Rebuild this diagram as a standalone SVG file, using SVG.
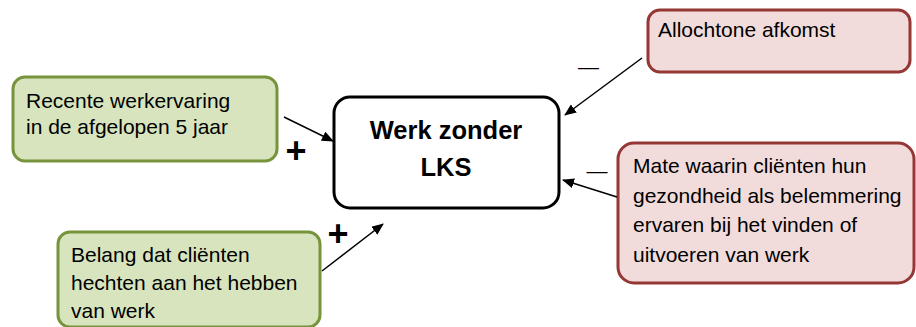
<svg xmlns="http://www.w3.org/2000/svg" width="916" height="327" viewBox="0 0 916 327">
<defs>
<marker id="ah" markerWidth="12" markerHeight="10" refX="11" refY="5" orient="auto" markerUnits="userSpaceOnUse">
<path d="M0,0 L12,5 L0,10 Z" fill="#000"/>
</marker>
<style>
.g{fill:#D7E4BD;stroke:#77933C;stroke-width:3}
.p{fill:#F2DCDB;stroke:#953735;stroke-width:3}
.c{fill:#fff;stroke:#000;stroke-width:3}
.t{font-family:"Liberation Sans",Arial,sans-serif;font-size:21px;fill:#000}
.b{font-family:"Liberation Sans",Arial,sans-serif;font-weight:bold;fill:#000}
.e{stroke:#000;stroke-width:1.5;fill:none;marker-end:url(#ah)}
</style>
</defs>
<rect width="916" height="327" fill="#fff"/>
<g id="center">
<rect class="c" x="334" y="97" width="225" height="111" rx="16"/>
<text class="b" x="446" y="139" font-size="25.5" text-anchor="middle">Werk zonder</text>
<text class="b" x="446" y="176" font-size="25.5" text-anchor="middle">LKS</text>
</g>
<g id="recente">
<rect class="g" x="13" y="77" width="264" height="84" rx="12"/>
<text class="t" x="26" y="108">Recente werkervaring</text>
<text class="t" x="26" y="134">in de afgelopen 5 jaar</text>
</g>
<g id="belang">
<rect class="g" x="58" y="232" width="262" height="95" rx="12"/>
<text class="t" x="71" y="262">Belang dat cliënten</text>
<text class="t" x="71" y="290">hechten aan het hebben</text>
<text class="t" x="71" y="318">van werk</text>
</g>
<g id="allochtone">
<rect class="p" x="648" y="10" width="262" height="62" rx="12"/>
<text class="t" x="658" y="37">Allochtone afkomst</text>
</g>
<g id="mate">
<rect class="p" x="618" y="143" width="296" height="140" rx="16"/>
<text class="t" x="633" y="173" font-size="20.5">Mate waarin cliënten hun</text>
<text class="t" x="633" y="203" font-size="20.5">gezondheid als belemmering</text>
<text class="t" x="633" y="232" font-size="20.5">ervaren bij het vinden of</text>
<text class="t" x="633" y="262" font-size="20.5">uitvoeren van werk</text>
</g>
<g id="connectors">
<line class="e" x1="284" y1="117" x2="333" y2="141"/>
<line class="e" x1="642" y1="58" x2="565" y2="115"/>
<line class="e" x1="617" y1="197" x2="563" y2="180"/>
<line class="e" x1="322" y1="271" x2="383" y2="224"/>
</g>
<g id="signs">
<text class="b" x="296" y="163" font-size="36" text-anchor="middle">+</text>
<text class="b" x="338" y="246" font-size="36" text-anchor="middle">+</text>
<text class="t" x="588.5" y="74" text-anchor="middle">—</text>
<text class="t" x="597" y="178" text-anchor="middle">—</text>
</g>
</svg>
